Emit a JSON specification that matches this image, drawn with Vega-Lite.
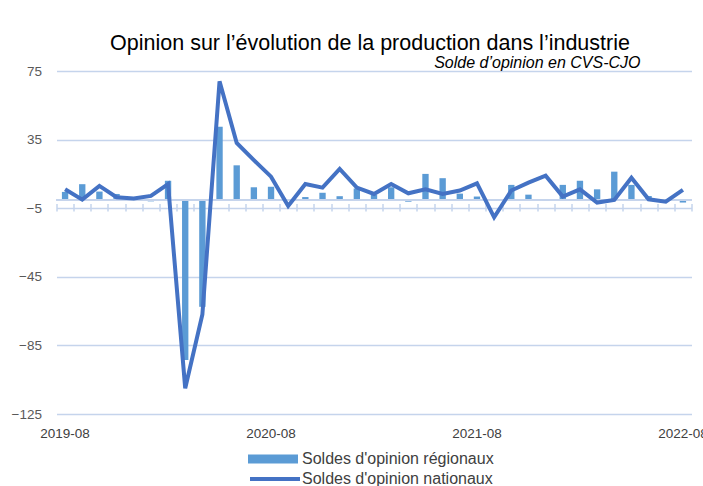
{
  "$schema": "https://vega.github.io/schema/vega-lite/v6.json",
  "width": 635,
  "height": 343,
  "autosize": "none",
  "padding": {"left": 56.5, "top": 71, "right": 11.5, "bottom": 72},
  "background": "white",
  "config": {"view": {"stroke": null}, "font": "Liberation Sans"},
  "title": {"text": "Opinion sur l’évolution de la production dans l’industrie", "fontSize": 21.5, "fontWeight": "normal", "color": "#000000", "anchor": "middle", "frame": "group", "offset": 6, "dy": 6, "dx": -4, "font": "Liberation Sans"},
  "data": {"values": [
    {"m": "2019-08", "r": 4.5, "n": 6},
    {"m": "2019-09", "r": 9, "n": 0},
    {"m": "2019-10", "r": 4.7, "n": 8},
    {"m": "2019-11", "r": 3.3, "n": 1.4},
    {"m": "2019-12", "r": 0.3, "n": 0.6},
    {"m": "2020-01", "r": -1, "n": 2.2},
    {"m": "2020-02", "r": 11, "n": 9},
    {"m": "2020-03", "r": -93.5, "n": -110},
    {"m": "2020-04", "r": -62.5, "n": -67},
    {"m": "2020-05", "r": 42.5, "n": 69},
    {"m": "2020-06", "r": 20, "n": 33},
    {"m": "2020-07", "r": 7.2, "n": 23},
    {"m": "2020-08", "r": 7.5, "n": 13.4},
    {"m": "2020-09", "r": 0.3, "n": -3.7},
    {"m": "2020-10", "r": 1.5, "n": 9.1},
    {"m": "2020-11", "r": 4, "n": 7},
    {"m": "2020-12", "r": 2, "n": 17.9},
    {"m": "2021-01", "r": 6.5, "n": 7},
    {"m": "2021-02", "r": 2.7, "n": 3.3},
    {"m": "2021-03", "r": 7.2, "n": 9.1},
    {"m": "2021-04", "r": -1.2, "n": 3.7},
    {"m": "2021-05", "r": 15, "n": 6},
    {"m": "2021-06", "r": 12.5, "n": 3.3},
    {"m": "2021-07", "r": 3.5, "n": 5.3},
    {"m": "2021-08", "r": 1.8, "n": 9.5},
    {"m": "2021-09", "r": -0.8, "n": -10.3},
    {"m": "2021-10", "r": 8.6, "n": 5.3},
    {"m": "2021-11", "r": 2.9, "n": 9.9},
    {"m": "2021-12", "r": -0.7, "n": 14},
    {"m": "2022-01", "r": 8.6, "n": 1.8},
    {"m": "2022-02", "r": 11, "n": 6},
    {"m": "2022-03", "r": 6, "n": -1.7},
    {"m": "2022-04", "r": 16.3, "n": -0.2},
    {"m": "2022-05", "r": 8.6, "n": 12.8},
    {"m": "2022-06", "r": 2.1, "n": 0.2},
    {"m": "2022-07", "r": 0.2, "n": -1.2},
    {"m": "2022-08", "r": -1.7, "n": 5.7}
  ]},
  "layer": [
    {
      "mark": {"type": "bar", "width": {"band": 0.37}},
      "encoding": {
        "x": {"field": "m", "type": "ordinal", "scale": {"type": "band", "paddingInner": 0, "paddingOuter": 0},
          "axis": {"values": ["2019-08", "2020-08", "2021-08", "2022-08"], "labelAngle": 0, "labelPadding": 12, "ticks": false, "domain": false, "grid": false, "title": null, "labelFontSize": 13.5, "labelColor": "#404040", "labelOverlap": false, "labelFont": "Liberation Sans"}},
        "y": {"field": "r", "type": "quantitative", "scale": {"domain": [-125, 75], "nice": false, "zero": false},
          "axis": {"values": [75, 35, -5, -45, -85, -125], "grid": true, "gridColor": "#c5d4ec", "gridWidth": 1.5, "domain": false, "ticks": false, "labelPadding": 15, "labelFontSize": 13.5, "labelColor": "#595959", "labelFont": "Liberation Sans",
            "title": "Solde d’opinion en CVS-CJO", "titleAngle": 0, "titleAlign": "right", "titleBaseline": "alphabetic", "titleX": 583.5, "titleY": -4, "titleFontStyle": "italic", "titleFontWeight": "normal", "titleFontSize": 16, "titleColor": "#000000", "titleFont": "Liberation Sans"}},
        "fill": {"datum": "Soldes d'opinion régionaux", "scale": {"range": ["#5b9bd5"]},
          "legend": {"orient": "none", "legendX": 191.5, "legendY": 363, "title": null, "symbolType": "M-1,-0.18H1V0.18H-1Z", "symbolSize": 2500, "symbolStrokeWidth": 0, "labelFontSize": 16, "labelColor": "#404040", "labelOffset": 4, "labelLimit": 400, "labelFont": "Liberation Sans"}}
      }
    },
    {
      "mark": {"type": "rule", "color": "#c5d4ec", "strokeWidth": 1.5},
      "encoding": {"y": {"datum": 0}}
    },
    {
      "mark": {"type": "line", "strokeWidth": 4},
      "encoding": {
        "x": {"field": "m", "type": "ordinal", "scale": {"type": "band"},
          "axis": {"orient": "bottom", "offset": -210.5, "labels": false, "domain": false, "ticks": true, "tickBand": "extent", "tickSize": 7.5, "tickColor": "#c5d4ec", "tickWidth": 1.5, "grid": false, "title": null}},
        "y": {"field": "n", "type": "quantitative"},
        "stroke": {"datum": "Soldes d'opinion nationaux", "scale": {"range": ["#4472c4"]},
          "legend": {"orient": "none", "legendX": 191.5, "legendY": 381, "title": null, "symbolType": "stroke", "symbolSize": 2500, "symbolStrokeWidth": 4, "labelFontSize": 16, "labelColor": "#404040", "labelOffset": 0, "labelLimit": 400, "labelFont": "Liberation Sans"}}
      }
    }
  ],
  "resolve": {"axis": {"x": "independent"}}
}
